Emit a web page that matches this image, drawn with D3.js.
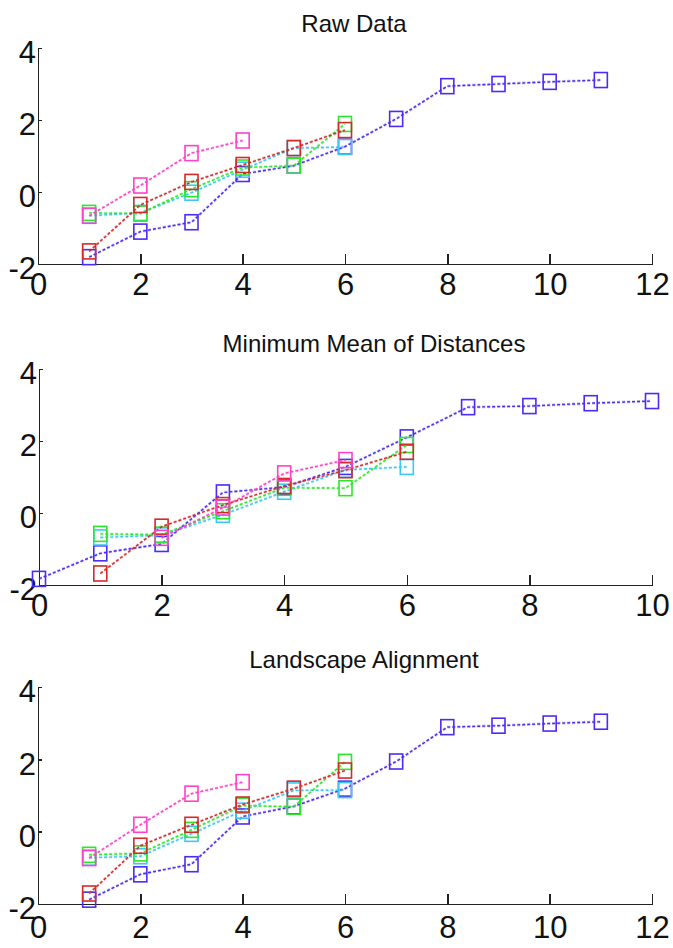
<!DOCTYPE html>
<html>
<head>
<meta charset="utf-8">
<script src="https://cdn.jsdelivr.net/npm/d3@7"></script>
<style>
  body { margin: 0; background: #fff; }
  text { font-family: "Liberation Sans", Arial, sans-serif; fill: #111; }
</style>
</head>
<body>
<div id="chart"></div>
<script>
// panel titles and x ranges
var titles = ["Raw Data", "Minimum  Mean of Distances", "Landscape Alignment"];
var xMaxes = [12, 10, 12];
var xTicks = [[0, 2, 4, 6, 8, 10, 12], [0, 2, 4, 6, 8, 10], [0, 2, 4, 6, 8, 10, 12]];
var yTicks = [-2, 0, 2, 4];

// series colours (drawing order)
var seriesNames = ["blue", "cyan", "green", "red", "magenta"];
var seriesColors = ["#4a2cf5", "#3cc8f5", "#2be82b", "#d42a2a", "#ff40c8"];

// first x of each series per panel
var rawStart = [1, 1, 1, 1, 1];
var mmdStart = [0, 1, 1, 1, 2];
var laStart = [1, 1, 1, 1, 1];

// Raw Data
var rawBlue = [-1.81, -1.10, -0.84, 0.50, 0.73, 1.26, 2.03, 2.94, 3.00, 3.06, 3.11];
var rawCyan = [-0.66, -0.58, -0.02, 0.62, 1.22, 1.25];
var rawGreen = [-0.58, -0.60, 0.08, 0.68, 0.73, 1.89];
var rawRed = [-1.65, -0.36, 0.28, 0.75, 1.22, 1.72];
var rawMagenta = [-0.66, 0.18, 1.08, 1.43];

// Minimum Mean of Distances
var mmdBlue = [-1.83, -1.12, -0.86, 0.57, 0.72, 1.28, 2.10, 2.94, 2.97, 3.05, 3.11];
var mmdCyan = [-0.68, -0.62, -0.05, 0.59, 1.20, 1.28];
var mmdGreen = [-0.58, -0.60, 0.05, 0.70, 0.69, 1.89];
var mmdRed = [-1.68, -0.38, 0.22, 0.75, 1.19, 1.70];
var mmdMagenta = [-0.69, 0.15, 1.10, 1.47];

// Landscape Alignment
var laBlue = [-1.88, -1.18, -0.90, 0.42, 0.70, 1.19, 1.94, 2.89, 2.93, 2.99, 3.04];
var laCyan = [-0.72, -0.68, -0.06, 0.58, 1.14, 1.15];
var laGreen = [-0.64, -0.60, 0.05, 0.72, 0.69, 1.93];
var laRed = [-1.71, -0.39, 0.19, 0.75, 1.19, 1.69];
var laMagenta = [-0.73, 0.19, 1.05, 1.37];

var panelData = [
  [rawBlue, rawCyan, rawGreen, rawRed, rawMagenta],
  [mmdBlue, mmdCyan, mmdGreen, mmdRed, mmdMagenta],
  [laBlue, laCyan, laGreen, laRed, laMagenta]
];
var panelStarts = [rawStart, mmdStart, laStart];

var svgWidth = 673;
var svgHeight = 948;

// pixel box of each axes: left, right, top (y=4), bottom (y=-2), title position
var boxes = [
  { left: 38, right: 652, top: 48, bottom: 264, titleX: 354, titleY: 32, labelY: 31 },
  { left: 39, right: 652, top: 369, bottom: 585, titleX: 374, titleY: 352, labelY: 31 },
  { left: 38, right: 652, top: 687, bottom: 904, titleX: 364, titleY: 668, labelY: 34 }
];

// plain hyphen minus, like the original figure
var tickFmt = d => String(d);

var svg = d3.select("#chart")
  .append("svg")
  .attr("width", svgWidth)
  .attr("height", svgHeight);

svg.append("rect")
  .attr("width", svgWidth)
  .attr("height", svgHeight)
  .attr("fill", "#fff");

panelData.forEach(function(series, p) {
  var box = boxes[p];

  var x = d3.scaleLinear().domain([0, xMaxes[p]]).range([box.left, box.right]);
  var y = d3.scaleLinear().domain([-2, 4]).range([box.bottom, box.top]);

  var g = svg.append("g");

  // title
  g.append("text")
    .attr("x", box.titleX)
    .attr("y", box.titleY)
    .attr("text-anchor", "middle")
    .attr("font-size", "24px")
    .text(titles[p]);

  // x axis, ticks pointing inward
  var xAxis = g.append("g")
    .attr("transform", `translate(0, ${box.bottom})`)
    .call(d3.axisBottom(x).tickValues(xTicks[p]).tickFormat(tickFmt)
      .tickSizeInner(-10).tickSizeOuter(0).tickPadding(0));
  xAxis.select(".domain").attr("stroke", "#222").attr("stroke-width", 1.6);
  xAxis.selectAll(".tick line").attr("stroke", "#222").attr("stroke-width", 1.4);
  xAxis.selectAll(".tick text")
    .attr("y", box.labelY)
    .attr("dy", 0)
    .attr("font-size", "31px")
    .attr("fill", "#111");

  // y axis
  var yAxis = g.append("g")
    .attr("transform", `translate(${box.left}, 0)`)
    .call(d3.axisLeft(y).tickValues(yTicks).tickFormat(tickFmt)
      .tickSizeInner(-4).tickSizeOuter(0).tickPadding(0));
  yAxis.select(".domain").attr("stroke", "#222").attr("stroke-width", 1.6);
  yAxis.selectAll(".tick line").attr("stroke", "#222").attr("stroke-width", 1.4);
  yAxis.selectAll(".tick text")
    .attr("x", -2)
    .attr("dy", "0.38em")
    .attr("font-size", "31px")
    .attr("fill", "#111")
    .attr("transform", "translate(0, 3)");
  g.selectAll(".tick text").attr("font-family", null);
  g.selectAll(".domain, .tick line").attr("shape-rendering", "crispEdges");

  var line = d3.line()
    .x(d => x(d.x))
    .y(d => y(d.y));

  series.forEach(function(vals, s) {
    var pts = vals.map((v, i) => ({ x: panelStarts[p][s] + i, y: v }));
    var color = seriesColors[s];

    // soft halo under the dashed line
    g.append("path")
      .datum(pts)
      .attr("fill", "none")
      .attr("stroke", color)
      .attr("stroke-opacity", 0.25)
      .attr("stroke-width", 3)
      .attr("stroke-dasharray", "3,2")
      .attr("d", line);

    g.append("path")
      .datum(pts)
      .attr("class", "series-" + seriesNames[s])
      .attr("fill", "none")
      .attr("stroke", color)
      .attr("stroke-width", 1.4)
      .attr("stroke-dasharray", "3,2")
      .attr("d", line);

    g.selectAll(".mk-" + s)
      .data(pts)
      .enter()
      .append("rect")
      .attr("class", "mk-" + s)
      .attr("x", d => x(d.x) - 6.5)
      .attr("y", d => y(d.y) - 7.5)
      .attr("width", 13)
      .attr("height", 15)
      .attr("fill", "none")
      .attr("stroke", color)
      .attr("stroke-width", 1.6);
  });
});
</script>
</body>
</html>
